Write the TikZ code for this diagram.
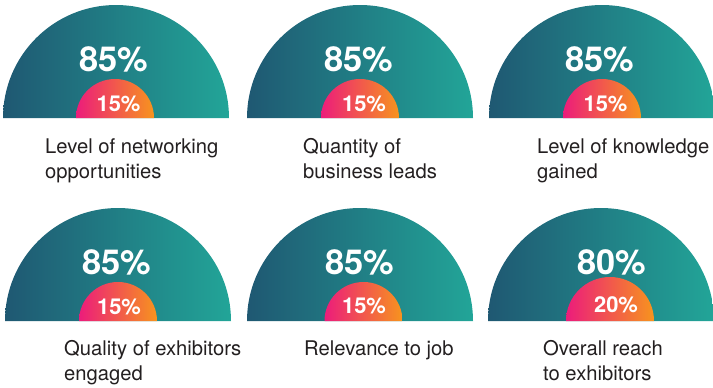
\documentclass[tikz,border=0pt]{standalone}
\usepackage{fontspec}
\setmainfont{TeX Gyre Heros}
\definecolor{tealL}{HTML}{1F5872}
\definecolor{tealM}{HTML}{15757F}
\definecolor{tealR}{HTML}{22A598}
\definecolor{pinkL}{HTML}{EC1C7B}
\definecolor{pinkM}{HTML}{F0645F}
\definecolor{orangeR}{HTML}{F7941E}
\definecolor{txt}{HTML}{231F20}
\tikzset{
  outerg/.style={left color=tealL, middle color=tealM, right color=tealR},
  innerg/.style={left color=pinkL, middle color=pinkM, right color=orangeR},
  bigpct/.style={text=white, font=\fontsize{34.5}{34.5}\selectfont\bfseries, anchor=base, inner sep=0pt},
  smallpct/.style={text=white, font=\fontsize{22}{22}\selectfont\bfseries, anchor=base, inner sep=0pt},
  lbl/.style={text=txt, font=\fontsize{20.3}{25}\selectfont, align=left, anchor=base west, inner sep=0pt}
}
\newcommand\gaugeshape[5]{%
  \shade[outerg] ({#1-113},#2) arc[start angle=180, end angle=360, radius=113] -- cycle;
  \shade[innerg] ({#3-#5},#2) arc[start angle=180, end angle=360, radius=#5] -- cycle;
  \ignorespaces}
\begin{document}
\begin{tikzpicture}[x=1bp,y=-1bp]
\useasboundingbox (0,0) rectangle (713,387);
% row 1
\gaugeshape{116}{118}{115}{118}{39}
\gaugeshape{360}{118}{360}{118}{39}
\gaugeshape{602}{118}{602}{118}{39}
% row 2
\gaugeshape{118}{321}{118}{321}{39}
\gaugeshape{360}{321}{363.5}{321}{39}
\gaugeshape{601}{321}{610}{321}{44}
% big percentages
\node[bigpct] (b1) at (114,71) {85\%};
\node[bigpct] (b2) at (358.5,71) {85\%};
\node[bigpct] (b3) at (600,71) {85\%};
\node[bigpct] (b4) at (116.5,274) {85\%};
\node[bigpct] (b5) at (359.5,274) {85\%};
\node[bigpct] (b6) at (612,274) {80\%};
% small percentages
\node[smallpct] (s1) at (118.5,111) {15\%};
\node[smallpct] (s2) at (364,111) {15\%};
\node[smallpct] (s3) at (605.5,111) {15\%};
\node[smallpct] (s4) at (119,314) {15\%};
\node[smallpct] (s5) at (364,313) {15\%};
\node[smallpct] (s6) at (616,312) {20\%};
% labels (base = last line)
\node[lbl] (l1) at (45,178.5) {Level of networking\\opportunities};
\node[lbl] (l2) at (303,178.5) {Quantity of\\business leads};
\node[lbl] (l3) at (537,178.5) {Level of knowledge\\gained};
\node[lbl] (l4) at (64,380) {Quality of exhibitors\\engaged};
\node[lbl] (l5) at (304,355) {Relevance to job};
\node[lbl] (l6) at (543,380) {Overall reach\\to exhibitors};
\end{tikzpicture}
\end{document}
